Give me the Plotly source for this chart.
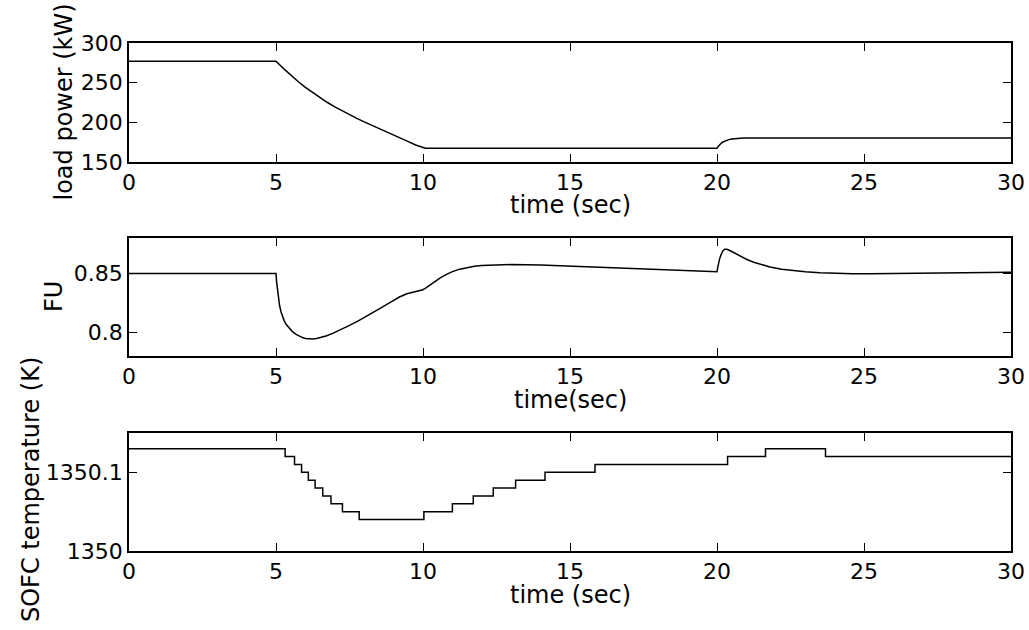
import plotly.graph_objects as go

# ---- data ----
# Panel 1: load power (kW)
t_load = [0, 5.0, 5.25, 5.5, 5.75, 6.0, 6.25, 6.5, 6.75, 7.0, 7.25, 7.5, 7.75, 8.0, 8.25, 8.5, 8.75, 9.0,
          9.25, 9.5, 9.75, 10.0, 10.08, 10.2, 20.0, 20.04, 20.1, 20.15, 20.2, 20.3, 20.4, 20.5, 20.6, 20.75,
          20.9, 21.1, 21.5, 30]
p_load = [277, 277, 268, 259.5, 251.5, 244, 237.3, 231, 225, 219.5, 214.3, 209.5, 204.9, 200.5, 196.2, 192,
          188, 184, 179.8, 175.6, 171.5, 168, 167.4, 167.2, 167.2, 169.5, 172.2, 173.9, 175.2, 177.0, 178.2,
          179.0, 179.5, 179.9, 180.1, 180.3, 180.4, 180.4]

# Panel 2: fuel utilisation FU
t_fu = [0, 5.0, 5.02, 5.05, 5.08, 5.12, 5.17, 5.22, 5.28, 5.35, 5.45, 5.55, 5.67, 5.79, 5.9, 6.0, 6.13,
        6.25, 6.38, 6.5, 6.7, 6.93, 7.2, 7.5, 7.8, 8.07, 8.35, 8.6, 8.9, 9.2, 9.45, 9.7, 9.9, 10.0, 10.1,
        10.25, 10.4, 10.6, 10.8, 11.0, 11.25, 11.5, 11.75, 12.0, 12.5, 13.0, 14.0, 15.0, 16.0, 17.0, 18.0,
        19.0, 20.0, 20.02, 20.05, 20.09, 20.14, 20.2, 20.26, 20.33, 20.42, 20.52, 20.65, 20.8, 21.0, 21.25,
        21.5, 21.8, 22.2, 22.6, 23.0, 23.5, 24.0, 24.6, 25.2, 26.0, 27.0, 28.0, 29.0, 30]
fu = [0.85, 0.85, 0.843, 0.835, 0.829, 0.823, 0.8175, 0.8134, 0.8098, 0.8066, 0.8034, 0.8009, 0.7986,
      0.7968, 0.7956, 0.7949, 0.7944, 0.7944, 0.7948, 0.7954, 0.797, 0.7992, 0.8022, 0.806, 0.8097, 0.8134,
      0.8175, 0.8212, 0.8257, 0.83, 0.8327, 0.8345, 0.8356, 0.8362, 0.8378, 0.8405, 0.8432, 0.8465, 0.8492,
      0.8515, 0.8536, 0.8551, 0.8561, 0.8567, 0.8573, 0.8575, 0.8571, 0.8562, 0.8552, 0.8542, 0.8532,
      0.8523, 0.8514, 0.8545, 0.8585, 0.8625, 0.866, 0.869, 0.8705, 0.8705, 0.8696, 0.8682, 0.8664, 0.8644,
      0.862, 0.8595, 0.8574, 0.8555, 0.8536, 0.8522, 0.8513, 0.8506, 0.8501, 0.8498, 0.8497, 0.8499,
      0.8503, 0.8506, 0.8508, 0.851]

# Panel 3: SOFC temperature (K), step changes
t_temp = [0, 5.31, 5.63, 5.87, 6.10, 6.33, 6.59, 6.87, 7.26, 7.83, 10.03, 11.0, 11.71, 12.39, 13.15, 14.15,
          15.85, 20.36, 21.65, 23.69, 30]
temp = [1350.13, 1350.12, 1350.11, 1350.10, 1350.09, 1350.08, 1350.07, 1350.06, 1350.05, 1350.04, 1350.05,
        1350.06, 1350.07, 1350.08, 1350.09, 1350.10, 1350.11, 1350.12, 1350.13, 1350.12, 1350.12]

x_ticks = [0, 5, 10, 15, 20, 25, 30]
y1_ticks = [150, 200, 250, 300]
y2_ticks = [0.8, 0.85]
y2_labels = ["0.8", "0.85"]
y3_ticks = [1350, 1350.1]
y3_labels = ["1350", "1350.1"]

# ---- figure ----
W, H = 1029, 630
FONT = "DejaVu Sans, sans-serif"
fig = go.Figure()
line = dict(color="black", width=1.5)
fig.add_trace(go.Scatter(x=t_load, y=p_load, mode="lines", line=line, xaxis="x", yaxis="y"))
fig.add_trace(go.Scatter(x=t_fu, y=fu, mode="lines", line=line, xaxis="x2", yaxis="y2"))
fig.add_trace(go.Scatter(x=t_temp, y=temp, mode="lines", line=dict(**line, shape="hv"),
                         xaxis="x3", yaxis="y3"))


def px(xp):
    return xp / W


def py(yp):
    return 1 - yp / H


xd = [px(129), px(1011)]
panels = [(43, 162), (238, 356), (433, 551)]


def ydom(top, bot):
    return [py(bot), py(top)]


common = dict(showline=True, linecolor="black", linewidth=1.5, mirror="ticks", ticks="inside",
              ticklen=8, tickwidth=1.2, tickcolor="black", showgrid=False, zeroline=False,
              automargin=False, tickfont=dict(family=FONT, size=22, color="black"))

ax = dict(
    xaxis=dict(domain=xd, anchor="y", range=[0, 30], tickvals=x_ticks, **common),
    yaxis=dict(domain=ydom(*panels[0]), anchor="x", range=[150, 300], tickvals=y1_ticks, **common),
    xaxis2=dict(domain=xd, anchor="y2", range=[0, 30], tickvals=x_ticks, **common),
    yaxis2=dict(domain=ydom(*panels[1]), anchor="x2", range=[0.78, 0.88], tickvals=y2_ticks,
                ticktext=y2_labels, **common),
    xaxis3=dict(domain=xd, anchor="y3", range=[0, 30], tickvals=x_ticks, **common),
    yaxis3=dict(domain=ydom(*panels[2]), anchor="x3", range=[1350, 1350.15], tickvals=y3_ticks,
                ticktext=y3_labels, **common),
)

tf = dict(family=FONT, size=24, color="black")
ann = [
    dict(text="time (sec)", x=px(570), y=py(205)),
    dict(text="time(sec)", x=px(570), y=py(400)),
    dict(text="time (sec)", x=px(570), y=py(595)),
    dict(text="load power (kW)", x=px(64), y=py(102.5), textangle=-90),
    dict(text="FU", x=px(54), y=py(297), textangle=-90),
    dict(text="SOFC temperature (K)", x=px(31), y=py(490), textangle=-90),
]
for a in ann:
    a.update(xref="paper", yref="paper", showarrow=False, font=tf, xanchor="center", yanchor="middle")

fig.update_layout(width=W, height=H, margin=dict(l=0, r=0, t=0, b=0), paper_bgcolor="white",
                  plot_bgcolor="white", showlegend=False, annotations=ann, **ax)
fig.write_html("out.html", config={"displayModeBar": False},
               post_script="document.body.style.margin='0px';document.body.style.overflow='hidden';")
